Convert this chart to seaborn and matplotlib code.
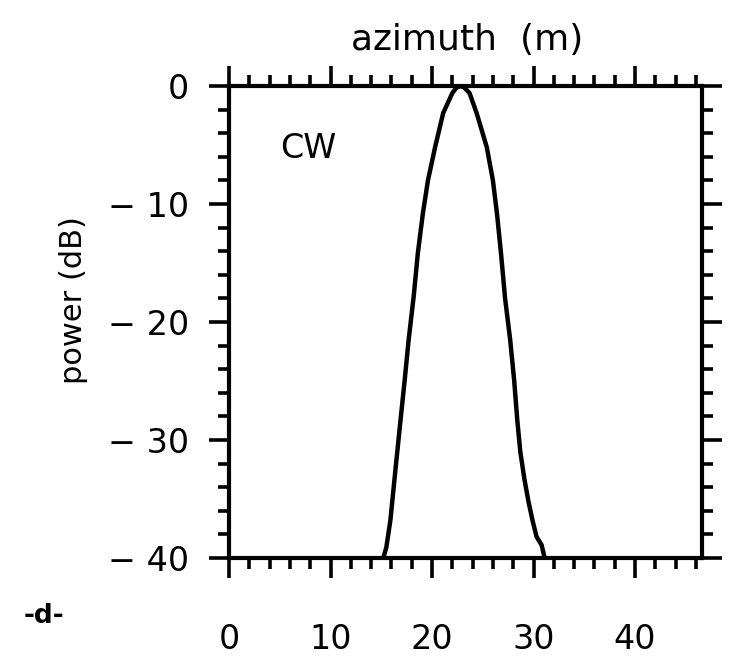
import matplotlib
matplotlib.use("Agg")
import matplotlib.pyplot as plt
from matplotlib.ticker import MultipleLocator
import seaborn as sns
import pandas as pd

# --- data ---
azimuth = [15.2, 15.5, 15.9, 16.4, 16.9, 17.3, 17.7, 18.2, 18.6, 19.1, 19.6, 20.3, 21.1,
           22.0, 22.4, 22.8, 23.2, 23.7, 24.4, 25.4, 26.0, 26.4, 26.8, 27.2, 27.7,
           28.1, 28.4, 28.7, 29.1, 29.5, 29.9, 30.3, 30.8, 31.1]
power_db = [-40.0, -39.1, -36.8, -32.5, -28.3, -25.0, -21.5, -17.8, -14.2, -10.8, -8.0,
            -5.2, -2.3, -0.6, -0.15, 0.0, -0.15, -0.6, -2.3, -5.2, -8.0, -10.8, -14.2,
            -18.0, -21.5, -25.0, -28.3, -31.0, -33.3, -35.2, -36.8, -38.2, -38.9, -40.0]
x_ticks = [0, 10, 20, 30, 40]
y_ticks = [0, -10, -20, -30, -40]
y_tick_labels = ["0", "\u2212 10", "\u2212 20", "\u2212 30", "\u2212 40"]

df = pd.DataFrame({"azimuth": azimuth, "power": power_db})

sns.set_theme(style="ticks")
plt.rcParams["font.family"] = ["DejaVu Sans"]
plt.rcParams["text.color"] = "black"
plt.rcParams["xtick.color"] = "black"
plt.rcParams["ytick.color"] = "black"

fig = plt.figure(figsize=(7.30, 6.58), dpi=100)
ax = fig.add_axes([229 / 730, 1 - 558 / 658, (702 - 229) / 730, (558 - 86) / 658])

sns.lineplot(data=df, x="azimuth", y="power", sort=False, color="black",
             linewidth=3.2, ax=ax, estimator=None)

ax.set_xlim(0, 46.6)
ax.set_ylim(-40, 0)
ax.set_xticks(x_ticks)
ax.set_xticklabels([str(v) for v in x_ticks])
ax.set_yticks(y_ticks)
ax.set_yticklabels(y_tick_labels)
ax.xaxis.set_minor_locator(MultipleLocator(2))
ax.yaxis.set_minor_locator(MultipleLocator(2))

for s in ax.spines.values():
    s.set_visible(True)
    s.set_color("black")
    s.set_linewidth(3.0)

ax.tick_params(which="major", direction="out", length=14.5, width=2.6, color="black",
               top=True, right=True, bottom=True, left=True,
               labeltop=False, labelright=False, labelsize=24, labelcolor="black")
ax.tick_params(which="minor", direction="out", length=8, width=2.6, color="black",
               top=True, right=True, bottom=True, left=True)
ax.tick_params(axis="x", which="major", pad=32)
ax.tick_params(axis="y", which="major", pad=14)

ax.set_xlabel("")
ax.set_ylabel("")
ax.grid(False)

fig.text(467 / 730, 1 - 40 / 658, "azimuth  (m)", ha="center", va="center", fontsize=26)
fig.text(73 / 730, 1 - 300 / 658, "power (dB)", ha="center", va="center",
         rotation=90, fontsize=22)
ax.text(7.8, -5.3, "CW", ha="center", va="center", fontsize=24)
fig.text(44 / 730, 1 - 616 / 658, "-d-", ha="center", va="center", fontsize=19,
         fontweight="bold")

fig.savefig("out.png", dpi=100, facecolor="white")
